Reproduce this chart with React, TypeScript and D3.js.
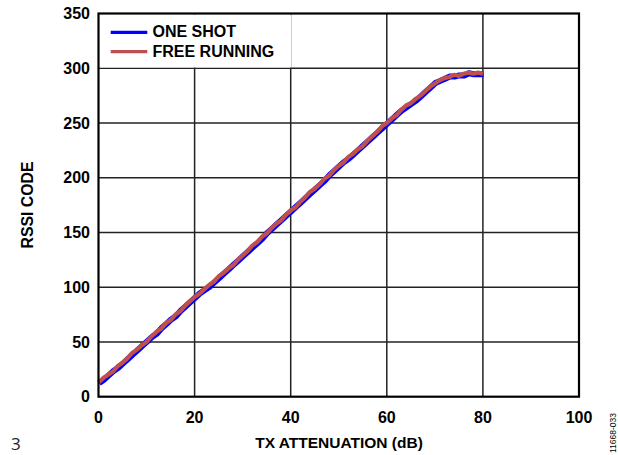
import React from "react";
import * as d3 from "d3";

const attenuation: number[] = d3.range(0, 81);
const oneShot: number[] = [
  13, 16, 20, 24, 27, 31, 35, 39, 43, 47,
  51, 55, 58, 63, 67, 71, 74, 79, 83, 87,
  91, 95, 98, 101, 105, 109, 113, 117, 121, 125,
  129, 133, 137, 141, 145, 150, 154, 158, 162, 166,
  170, 174, 178, 182, 186, 190, 194, 198, 203, 207,
  211, 215, 218, 222, 226, 230, 234, 238, 242, 246,
  250, 254, 258, 262, 265, 268, 271, 275, 279, 283,
  287, 289, 291, 293, 293, 294, 294, 296, 295, 295, 295,
];
const freeRunning: number[] = [
  13, 17, 20, 23, 28, 31, 35, 40, 43, 47,
  50, 55, 59, 62, 67, 70, 75, 78, 83, 87,
  91, 94, 98, 102, 105, 110, 113, 117, 120, 125,
  129, 133, 138, 141, 146, 149, 154, 158, 161, 166,
  170, 173, 178, 182, 187, 190, 194, 199, 202, 207,
  211, 214, 219, 222, 226, 229, 234, 238, 242, 247,
  250, 254, 257, 262, 266, 268, 272, 275, 279, 283,
  286, 289, 291, 292, 294, 293, 295, 296, 295, 296, 295,
];
const xTicks: number[] = [0, 20, 40, 60, 80, 100];
const yTicks: number[] = [0, 50, 100, 150, 200, 250, 300, 350];
const seriesNames: string[] = ["ONE SHOT", "FREE RUNNING"];
const seriesColors: string[] = ["#0000FF", "#C0504D"];

const L = 98.5, R = 579, T = 13.5, B = 396.7;
const font = "'Liberation Sans', Arial, sans-serif";

export default function App() {
  const x = d3.scaleLinear().domain([0, 100]).range([L, R]);
  const y = d3.scaleLinear().domain([0, 350]).range([B, T]);
  const line = d3
    .line<[number, number]>()
    .x((d) => x(d[0]))
    .y((d) => y(d[1]));
  const d1 = line(attenuation.map((a, i) => [a, oneShot[i]] as [number, number])) || "";
  const d2 = line(attenuation.map((a, i) => [a, freeRunning[i]] as [number, number])) || "";

  return (
    <svg
      width={618}
      height={455}
      style={{ position: "absolute", left: 0, top: 0, background: "#fff" }}
    >
      <rect x={0} y={0} width={618} height={455} fill="#fff" />
      {/* grid */}
      {xTicks.slice(1, -1).map((t) => (
        <line key={"gx" + t} x1={x(t)} x2={x(t)} y1={T} y2={B} stroke="#222" strokeWidth={1.5} />
      ))}
      {yTicks.slice(1, -1).map((t) => (
        <line key={"gy" + t} x1={L} x2={R} y1={y(t)} y2={y(t)} stroke="#222" strokeWidth={1.5} />
      ))}
      {/* legend background */}
      <rect x={L + 1} y={T + 1} width={192} height={53} fill="#fff" />
      {/* series */}
      <path d={d1} fill="none" stroke={seriesColors[0]} strokeWidth={6} strokeLinejoin="round" transform="translate(0.6,0.6)" />
      <path d={d2} fill="none" stroke={seriesColors[1]} strokeWidth={4.2} strokeLinejoin="round" />
      {/* frame */}
      <rect x={L} y={T} width={R - L} height={B - T} fill="none" stroke="#000" strokeWidth={2.2} />
      {/* legend */}
      {seriesNames.map((n, i) => (
        <g key={n}>
          <line x1={110.7} x2={147.3} y1={32.3 + i * 19.4} y2={32.3 + i * 19.4} stroke={seriesColors[i]} strokeWidth={3.3} />
          <text x={152.5} y={36.7 + i * 20} fontFamily={font} fontWeight="bold" fontSize={16} fill="#000">
            {n}
          </text>
        </g>
      ))}
      {/* y tick labels */}
      {yTicks.map((t) => (
        <text key={"yt" + t} x={90} y={y(t)} dy="0.35em" textAnchor="end" fontFamily={font} fontWeight="bold" fontSize={16}>
          {t}
        </text>
      ))}
      {/* x tick labels */}
      {xTicks.map((t) => (
        <text key={"xt" + t} x={x(t)} y={422.7} textAnchor="middle" fontFamily={font} fontWeight="bold" fontSize={16}>
          {t}
        </text>
      ))}
      <text x={339} y={447.5} textAnchor="middle" fontFamily={font} fontWeight="bold" fontSize={15.5}>
        TX ATTENUATION (dB)
      </text>
      <text
        transform={`translate(27.5,205) rotate(-90)`}
        textAnchor="middle"
        dy="0.36em"
        fontFamily={font}
        fontWeight="bold"
        fontSize={15.8}
      >
        RSSI CODE
      </text>
      <text x={11} y={450} fontFamily="'Open Sans', sans-serif" fontSize={17} fill="#222">
        3
      </text>
      <text
        transform="translate(613,433) rotate(-90)"
        textAnchor="middle"
        dy="0.35em"
        fontFamily={font}
        fontSize={8.5}
      >
        11668-033
      </text>
    </svg>
  );
}
